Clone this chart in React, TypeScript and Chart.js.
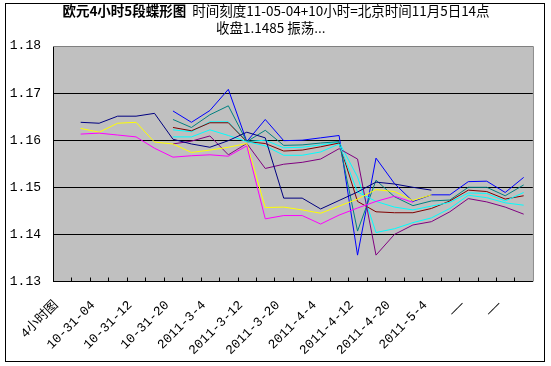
import React, { useEffect, useRef } from 'react';
import { Chart, registerables } from 'chart.js';

Chart.register(...registerables);

// ---- Data ----
const tickLabels = ['4小时图', '10-31-04', '10-31-12', '10-31-20', '2011-3-4', '2011-3-12', '2011-3-20', '2011-4-4', '2011-4-12', '2011-4-20', '2011-5-4', '——', '——'];
// 26 categories, a label on every other one
const categories: string[] = [];
tickLabels.forEach((l) => { categories.push(l); categories.push(''); });

const yTicks = [1.13, 1.14, 1.15, 1.16, 1.17, 1.18];

const navy = [null, 1.1638, 1.1636, 1.1651, 1.1651, 1.1657, 1.1602, 1.1592, 1.1585, 1.1599, 1.1617, 1.1605, 1.1477, 1.1477, 1.1454, 1.1472, 1.1490, 1.1511, 1.1507, 1.1500, 1.1494, null, null, null, null, null];
const yellow = [null, 1.1625, 1.1617, 1.1636, 1.1638, 1.1596, 1.1592, 1.1574, 1.1579, 1.1585, 1.1593, 1.1457, 1.1458, 1.1452, 1.1445, 1.1460, 1.1475, 1.1495, 1.1491, 1.1472, 1.1484, null, null, null, null, null];
const magenta = [null, 1.1613, 1.1615, 1.1611, 1.1607, 1.1583, 1.1564, 1.1567, 1.1569, 1.1566, 1.1588, 1.1433, 1.1440, 1.1440, 1.1422, 1.1441, 1.1456, 1.1470, 1.1481, 1.1468, null, null, null, null, null, null];
const blue = [null, null, null, null, null, null, 1.1662, 1.1638, 1.1663, 1.1708, 1.1597, 1.1644, 1.1599, 1.1600, 1.1605, 1.1610, 1.1356, 1.1562, 1.1508, 1.1470, 1.1484, 1.1484, 1.1512, 1.1513, 1.1489, 1.1521];
const teal = [null, null, null, null, null, null, 1.1644, 1.1627, 1.1654, 1.1673, 1.1597, 1.1621, 1.1589, 1.1590, 1.1594, 1.1597, 1.1407, 1.1515, 1.1480, 1.1461, 1.1471, 1.1473, 1.1500, 1.1500, 1.1482, 1.1505];
const darkRed = [null, null, null, null, null, null, 1.1627, 1.1620, 1.1637, 1.1637, 1.1597, 1.1593, 1.1577, 1.1579, 1.1586, 1.1594, 1.1470, 1.1448, 1.1446, 1.1446, 1.1455, 1.1471, 1.1494, 1.1491, 1.1475, 1.1482];
const cyanA = [null, null, null, null, null, null, 1.1622, 1.1618, 1.1639, 1.1639, 1.1597, 1.1600, 1.1584, 1.1585, 1.1590, 1.1596, 1.1522, 1.1404, 1.1412, 1.1425, 1.1435, 1.1455, 1.1483, 1.1478, 1.1467, 1.1462];
const cyanB = [null, null, null, null, null, null, 1.1607, 1.1607, 1.1622, 1.1610, 1.1597, 1.1588, 1.1568, 1.1568, 1.1575, 1.1592, 1.1490, 1.1470, 1.1458, 1.1452, 1.1460, 1.1468, 1.1488, 1.1487, 1.1471, 1.1489];
const purple = [null, null, null, null, null, null, 1.1592, 1.1598, 1.1609, 1.1569, 1.1593, 1.1540, 1.1549, 1.1553, 1.1560, 1.1582, 1.1560, 1.1356, 1.1400, 1.1420, 1.1427, 1.1448, 1.1476, 1.1469, 1.1458, 1.1443];

const titleBold = '欧元4小时5段蝶形图';
const titleRest = '  时间刻度11-05-04+10小时=北京时间11月5日14点';
const titleLine2 = '收盘1.1485 振荡...';

const seriesList = [
  { name: 'navy', data: navy, color: '#000080' },
  { name: 'magenta', data: magenta, color: '#FF00FF' },
  { name: 'yellow', data: yellow, color: '#FFFF00' },
  { name: 'cyanB', data: cyanB, color: '#00FFFF' },
  { name: 'purple', data: purple, color: '#800080' },
  { name: 'darkRed', data: darkRed, color: '#800000' },
  { name: 'teal', data: teal, color: '#008080' },
  { name: 'cyanA', data: cyanA, color: '#00FFFF' },
  { name: 'blue', data: blue, color: '#0000FF' },
];

const CJK = '"Noto Sans CJK SC"';
const MONO = '"Liberation Mono", "Noto Sans CJK SC", monospace';

const decorPlugin = {
  id: 'decor',
  beforeDraw(chart: any) {
    const { ctx, chartArea: a, width, height } = chart;
    ctx.save();
    ctx.fillStyle = '#ffffff';
    ctx.fillRect(0, 0, width, height);
    ctx.fillStyle = '#C0C0C0';
    ctx.fillRect(a.left, a.top, a.right - a.left, a.bottom - a.top);
    ctx.strokeStyle = '#000';
    ctx.lineWidth = 1;
    ctx.strokeRect(5.5, 3.5, 539, 358);
    ctx.restore();
  },
  beforeDatasetsDraw(chart: any) {
    const { ctx, chartArea: a } = chart;
    const xs = chart.scales.x;
    ctx.save();
    ctx.strokeStyle = '#808080';
    ctx.lineWidth = 1;
    ctx.beginPath();
    ctx.moveTo(a.left, a.top + 0.5);
    ctx.lineTo(a.right + 0.5, a.top + 0.5);
    ctx.lineTo(a.right + 0.5, a.bottom);
    ctx.stroke();
    // tick marks between categories, inside the plot
    const step = xs.getPixelForValue(1) - xs.getPixelForValue(0);
    ctx.strokeStyle = '#000';
    ctx.beginPath();
    for (let i = 1; i < categories.length; i++) {
      const px = Math.round(xs.getPixelForValue(i) - step / 2) + 0.5;
      ctx.moveTo(px, a.bottom);
      ctx.lineTo(px, a.bottom - 4);
    }
    ctx.stroke();
    ctx.restore();
  },
  afterDraw(chart: any) {
    const { ctx } = chart;
    ctx.save();
    ctx.fillStyle = '#000';
    ctx.textBaseline = 'middle';
    ctx.textAlign = 'left';
    ctx.font = `bold 13.5px ${CJK}`;
    const wb = ctx.measureText(titleBold).width;
    ctx.font = `13.5px ${CJK}`;
    const wr = ctx.measureText(titleRest).width;
    const cx = 276;
    const x0 = cx - (wb + wr) / 2;
    ctx.font = `bold 13.5px ${CJK}`;
    ctx.fillText(titleBold, x0, 11);
    ctx.font = `13.5px ${CJK}`;
    ctx.fillText(titleRest, x0 + wb, 11);
    ctx.fillText(titleLine2, 216, 28);
    ctx.restore();
  },
};

export default function App() {
  const ref = useRef<HTMLCanvasElement>(null);
  useEffect(() => {
    document.body.style.margin = '0';
    const chart = new Chart(ref.current as HTMLCanvasElement, {
      type: 'line',
      data: {
        labels: categories,
        datasets: seriesList.map((s) => ({
          label: s.name,
          data: s.data as any,
          borderColor: s.color,
          backgroundColor: s.color,
          borderWidth: 1,
          pointRadius: 0,
          pointHoverRadius: 0,
          tension: 0,
          spanGaps: false,
          fill: false,
        })),
      },
      options: {
        responsive: false,
        animation: false,
        devicePixelRatio: 1,
        layout: { padding: { left: 0, top: 46, right: 16, bottom: 0 } },
        plugins: {
          legend: { display: false },
          title: { display: false },
          tooltip: { enabled: false },
        },
        scales: {
          x: {
            type: 'category',
            offset: true,
            grid: { display: false, drawOnChartArea: false, drawTicks: false, offset: true },
            border: { display: true, color: '#000', width: 1 },
            ticks: {
              autoSkip: false,
              maxRotation: 45,
              minRotation: 45,
              padding: 16,
              labelOffset: -6,
              color: '#000',
              font: { family: MONO, size: 13 },
            },
            afterFit: (scale: any) => { scale.height = 84.5; },
          },
          y: {
            min: 1.13,
            max: 1.18,
            afterBuildTicks: (scale: any) => { scale.ticks = yTicks.map((v) => ({ value: v })); },
            grid: {
              color: (c: any) => (c.tick && Math.abs(c.tick.value - 1.18) < 1e-6 ? '#808080' : '#000'),
              lineWidth: 1,
              drawTicks: false,
            },
            border: { display: true, color: '#000', width: 1 },
            ticks: {
              padding: 12,
              color: '#000',
              font: { family: MONO, size: 13 },
              callback: (v: any) => Number(v).toFixed(2),
            },
            afterFit: (scale: any) => { scale.width = 53; },
          },
        },
      },
      plugins: [decorPlugin],
    } as any);
    return () => chart.destroy();
  }, []);
  return (
    <div style={{ position: 'absolute', left: 0, top: 0, width: 551, height: 366 }}>
      <canvas ref={ref} width={551} height={366} style={{ display: 'block', width: 551, height: 366 }} />
    </div>
  );
}
